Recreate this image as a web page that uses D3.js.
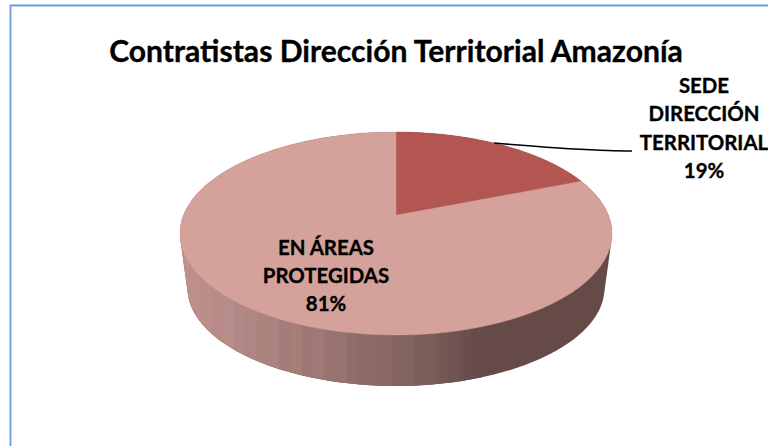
<!DOCTYPE html>
<html><head><meta charset="utf-8">
<script src="https://cdn.jsdelivr.net/npm/d3@7"></script>
<style>html,body{margin:0;padding:0;background:#fff}svg{display:block}text{font-family:Lato,Carlito,sans-serif;font-weight:700;fill:#000;stroke:#000;stroke-width:.35px}</style>
</head><body><div id="c"></div>
<script>
const title = "Contratistas Dirección Territorial Amazonía";
const categories = ["SEDE DIRECCIÓN TERRITORIAL", "EN ÁREAS PROTEGIDAS"];
const values = [19, 81];
const labelLines = [["SEDE","DIRECCIÓN","TERRITORIAL","19%"],["EN ÁREAS","PROTEGIDAS","81%"]];
const sliceColors = ["#b35651","#d5a29b"];
const wallShades = ["#bf908c","#bd8e8a","#ba8f8a","#b88b88","#b68d88","#b28986","#b08683","#ab8480","#a98480","#a57c78","#a57f78","#9f7876","#a07a76","#98736f","#967570","#8f6d69","#8d6b66","#8a6a64","#8a6864","#84645e","#83645e","#7d5f59","#7a5d58","#745854","#715451","#6b4f4e","#684c4b"];
const wallBase = "#654a48";

const W=768,H=446;
const svg=d3.select("#c").append("svg").attr("width",W).attr("height",H);

// frame
svg.append("path").attr("d",`M10.5,${H}V5.5H${W}`).attr("fill","none").attr("stroke","#6a9fd6").attr("stroke-width",1.8);

// scales mapping the unit disc to the two projected rims
const topX=d3.scaleLinear().domain([-1,1]).range([180,612]);
const topY=d3.scaleLinear().domain([-1,1]).range([335,132]);
const botX=d3.scaleLinear().domain([-1,1]).range([187.5,604.5]);
const botY=d3.scaleLinear().domain([-1,1]).range([386,190]);
const tilt=0.181; // perspective offset of the pie's centre
function project(r,a){
  const u=r*Math.sin(a),v=r*Math.cos(a),d=1+tilt*v;
  return [topX(u*Math.sqrt(1-tilt*tilt)/d),topY((v+tilt)/d)];
}

// side wall
const ring=d3.range(0,360,2).map(a=>a*Math.PI/180);
const hull=d3.polygonHull([
  ...ring.map(a=>[topX(Math.sin(a)),topY(Math.cos(a))]),
  ...ring.map(a=>[botX(Math.sin(a)),botY(Math.cos(a))])
]);
const defs=svg.append("defs");
defs.append("clipPath").attr("id","wall").append("path").attr("d","M"+hull.join("L")+"Z");
const wall=svg.append("g").attr("clip-path","url(#wall)");
wall.append("rect").attr("x",0).attr("y",0).attr("width",W).attr("height",H).attr("fill",wallBase);
const band=d3.scaleBand().domain(d3.range(wallShades.length)).range([178,482]);
wall.selectAll("rect.b").data(wallShades).join("rect").attr("class","b")
  .attr("x",(d,i)=>band(i)).attr("width",band.bandwidth()+.6)
  .attr("y",180).attr("height",220).attr("fill",d=>d);

// top face
const pie=d3.pie().sort(null).value(d=>d);
const line=d3.line();
svg.append("g").selectAll("path").data(pie(values)).join("path")
  .attr("d",d=>{
    const n=Math.ceil((d.endAngle-d.startAngle)/0.01);
    const pts=d3.range(n+1).map(i=>project(1,d.startAngle+(d.endAngle-d.startAngle)*i/n));
    return line([project(0,0),...pts])+"Z";
  })
  .attr("fill",(d,i)=>sliceColors[i]).attr("stroke",(d,i)=>sliceColors[i]).attr("stroke-width",.4);

// leader line
const arcs=pie(values);
const p0=project(1,arcs[0].startAngle+(arcs[0].endAngle-arcs[0].startAngle)*0.47);
svg.append("path").attr("d",d3.line().curve(d3.curveMonotoneX)([p0,[575,149],[614,150.8],[632,151]]))
  .attr("fill","none").attr("stroke","#000").attr("stroke-width",1.6);

// text
svg.append("text").attr("x",396).attr("y",62).attr("text-anchor","middle").attr("font-size",30.1).text(title);
const anchors=[[704,93,28.4],[326,255,27.9]];
labelLines.forEach((ls,k)=>{
  const t=svg.append("text").attr("text-anchor","middle").attr("font-size",20.4);
  ls.forEach((s,i)=>t.append("tspan").attr("x",anchors[k][0]).attr("y",anchors[k][1]+i*anchors[k][2]).text(s));
});
</script></body></html>
